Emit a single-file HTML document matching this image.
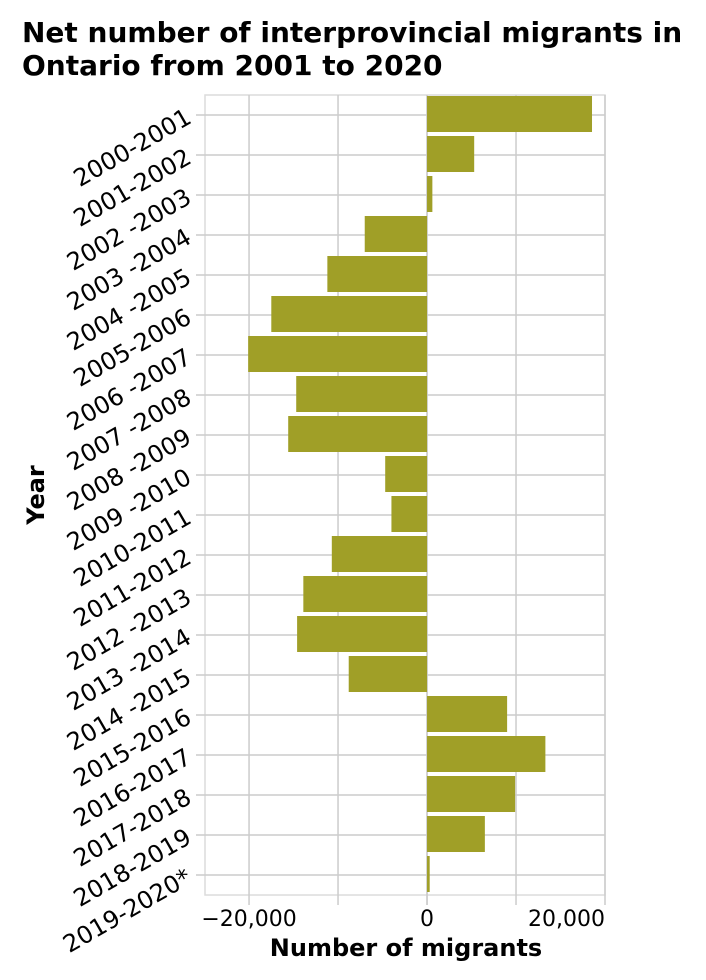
<!DOCTYPE html>
<html><head><meta charset="utf-8"><style>
body{margin:0;background:#fff;}
svg{display:block;font-family:"DejaVu Sans","Liberation Sans",sans-serif;}
</style></head><body>
<svg id="chart" width="706" height="980">
<text x="22" y="42" font-size="28" font-weight="bold" fill="#000">Net number of interprovincial migrants in</text>
<text x="22" y="75" font-size="28" font-weight="bold" fill="#000">Ontario from 2001 to 2020</text>
<g id="grid"></g><g id="bars"></g><g id="yticks"></g><g id="xticks"></g>
<text x="406" y="956" font-size="24" font-weight="bold" text-anchor="middle">Number of migrants</text>
<text transform="translate(44,495) rotate(-90)" font-size="24" font-weight="bold" text-anchor="middle">Year</text>
</svg>
<script>
const categories=["2000-2001","2001-2002","2002 -2003","2003 -2004","2004 -2005","2005-2006","2006 -2007","2007 -2008","2008 -2009","2009 -2010","2010-2011","2011-2012","2012 -2013","2013 -2014","2014 -2015","2015-2016","2016-2017","2017-2018","2018-2019","2019-2020*"];
const values=[18540,5300,600,-7000,-11200,-17500,-20100,-14700,-15600,-4700,-4000,-10700,-13900,-14600,-8800,9000,13300,9900,6500,300];
const xTicks=[-20000,-10000,0,10000,20000];
const xTickLabels=["\u221220,000","","0","","20,000"];
const NS="http://www.w3.org/2000/svg";
const L=205,R=605,T=95,B=895;
const xMin=-24950,xMax=20000;
function xs(v){return L+(v-xMin)/(xMax-xMin)*(R-L);}
const band=(B-T)/categories.length;
function yc(i){return T+band*(i+0.5);}
function mk(tag,attrs,parent){const e=document.createElementNS(NS,tag);for(const k in attrs)e.setAttribute(k,attrs[k]);document.getElementById(parent).appendChild(e);return e;}
let f=mk('rect',{x:L,y:T,width:R-L,height:B-T,fill:'none',stroke:'#dcdcdc','stroke-width':1.5},'grid');


xTicks.forEach((t,i)=>{
 const x=xs(t);
 let g=mk('line',{x1:x,x2:x,y1:T,y2:B+10,stroke:'#cccccc','stroke-width':1.5},'grid');
 
 
 if(xTickLabels[i]){
  let anchor=i===xTicks.length-1?'end':'middle';
  let tx=mk('text',{x:x,y:926,'font-size':22,'text-anchor':anchor},'xticks');
  tx.textContent=xTickLabels[i];
  
  
 }
});
categories.forEach((c,i)=>{
 const y=yc(i);
 let g=mk('line',{x1:L-9,x2:R,y1:y,y2:y,stroke:'#cccccc','stroke-width':1.5},'grid');
 
 
 const v=values[i];
 const x0=xs(0),x1=xs(v);
 let b=mk('rect',{x:Math.min(x0,x1),y:y-band/2+1,width:Math.max(Math.abs(x1-x0),1),height:band-4,fill:'#a09f27'},'bars');
 
 
 let t=mk('text',{transform:`translate(193,${y+7}) rotate(-30)`,'font-size':24,'text-anchor':'end'},'yticks');
 t.textContent=c;
 
 
});
let z=mk('line',{x1:xs(0),x2:xs(0),y1:T,y2:B+10,stroke:'#cccccc','stroke-width':1.5},'grid');


</script>
</body></html>
